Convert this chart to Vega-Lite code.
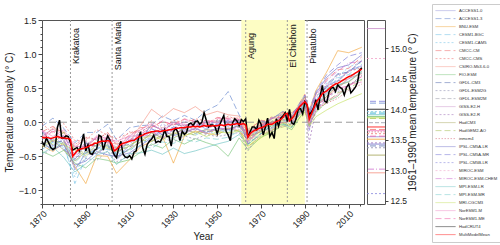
{
"$schema":"https://vega.github.io/schema/vega-lite/v6.json",
"padding":{"left":3,"top":3,"right":0,"bottom":0},
"config":{"font":"Liberation Sans","view":{"stroke":"#555555","strokeWidth":1},
 "axis":{"labelFont":"Liberation Sans","titleFont":"Liberation Sans","labelColor":"#222222","titleColor":"#222222","tickColor":"#444444","domain":false,"grid":false,"titleFontWeight":"normal"},
 "legend":{"labelFont":"Liberation Sans"}},
"datasets":{
"models":[
{"year":1870,"ACCESS1-0":-0.21,"ACCESS1-3":-0.06,"BNU-ESM":-0.34,"CESM1-BGC":-0.40,"CESM1-CAM5":-0.17,"CMCC-CM":-0.14,"CMCC-CMS":-0.02,"CSIRO-Mk3-6-0":-0.24,"FIO-ESM":-0.43,"GFDL-CM3":-0.14,"GFDL-ESM2G":-0.48,"GFDL-ESM2M":-0.30,"GISS-E2-H":-0.20,"GISS-E2-R":-0.13,"HadCM3":-0.37,"HadGEM2-AO":-0.21,"inmcm4":-0.21,"IPSL-CM5A-LR":-0.30,"IPSL-CM5A-MR":-0.34,"IPSL-CM5B-LR":-0.23,"MIROC-ESM":-0.23,"MIROC-ESM-CHEM":-0.12,"MPI-ESM-LR":-0.46,"MPI-ESM-MR":-0.29,"MRI-CGCM3":-0.34,"NorESM1-M":-0.12,"NorESM1-ME":-0.23},
{"year":1875,"ACCESS1-0":-0.35,"ACCESS1-3":0.06,"BNU-ESM":-0.43,"CESM1-BGC":-0.29,"CESM1-CAM5":-0.31,"CMCC-CM":-0.06,"CMCC-CMS":-0.16,"CSIRO-Mk3-6-0":-0.08,"FIO-ESM":-0.50,"GFDL-CM3":-0.29,"GFDL-ESM2G":-0.38,"GFDL-ESM2M":-0.42,"GISS-E2-H":-0.10,"GISS-E2-R":-0.27,"HadCM3":-0.27,"HadGEM2-AO":-0.33,"inmcm4":-0.10,"IPSL-CM5A-LR":-0.40,"IPSL-CM5A-MR":-0.24,"IPSL-CM5B-LR":-0.35,"MIROC-ESM":-0.14,"MIROC-ESM-CHEM":-0.28,"MPI-ESM-LR":-0.36,"MPI-ESM-MR":-0.41,"MRI-CGCM3":-0.26,"NorESM1-M":-0.21,"NorESM1-ME":-0.13},
{"year":1880,"ACCESS1-0":-0.24,"ACCESS1-3":-0.09,"BNU-ESM":-0.30,"CESM1-BGC":-0.31,"CESM1-CAM5":-0.37,"CMCC-CM":-0.17,"CMCC-CMS":-0.02,"CSIRO-Mk3-6-0":-0.15,"FIO-ESM":-0.41,"GFDL-CM3":-0.28,"GFDL-ESM2G":-0.33,"GFDL-ESM2M":-0.28,"GISS-E2-H":-0.24,"GISS-E2-R":-0.21,"HadCM3":-0.41,"HadGEM2-AO":-0.14,"inmcm4":-0.16,"IPSL-CM5A-LR":-0.33,"IPSL-CM5A-MR":-0.40,"IPSL-CM5B-LR":-0.20,"MIROC-ESM":-0.20,"MIROC-ESM-CHEM":-0.19,"MPI-ESM-LR":-0.52,"MPI-ESM-MR":-0.27,"MRI-CGCM3":-0.33,"NorESM1-M":-0.11,"NorESM1-ME":-0.27},
{"year":1885,"ACCESS1-0":-0.70,"ACCESS1-3":-0.30,"BNU-ESM":-0.65,"CESM1-BGC":-0.90,"CESM1-CAM5":-0.80,"CMCC-CM":-0.37,"CMCC-CMS":-0.27,"CSIRO-Mk3-6-0":-0.40,"FIO-ESM":-0.60,"GFDL-CM3":-0.55,"GFDL-ESM2G":-0.67,"GFDL-ESM2M":-0.50,"GISS-E2-H":-0.35,"GISS-E2-R":-0.48,"HadCM3":-0.57,"HadGEM2-AO":-0.39,"inmcm4":-0.33,"IPSL-CM5A-LR":-0.63,"IPSL-CM5A-MR":-0.53,"IPSL-CM5B-LR":-0.43,"MIROC-ESM":-0.31,"MIROC-ESM-CHEM":-0.51,"MPI-ESM-LR":-0.73,"MPI-ESM-MR":-0.59,"MRI-CGCM3":-0.41,"NorESM1-M":-0.36,"NorESM1-ME":-0.47},
{"year":1890,"ACCESS1-0":-0.45,"ACCESS1-3":-0.15,"BNU-ESM":-0.90,"CESM1-BGC":-0.52,"CESM1-CAM5":-0.39,"CMCC-CM":-0.23,"CMCC-CMS":-0.27,"CSIRO-Mk3-6-0":-0.40,"FIO-ESM":-0.67,"GFDL-CM3":-0.31,"GFDL-ESM2G":-0.53,"GFDL-ESM2M":-0.51,"GISS-E2-H":-0.36,"GISS-E2-R":-0.29,"HadCM3":-0.43,"HadGEM2-AO":-0.46,"inmcm4":-0.22,"IPSL-CM5A-LR":-0.57,"IPSL-CM5A-MR":-0.41,"IPSL-CM5B-LR":-0.47,"MIROC-ESM":-0.28,"MIROC-ESM-CHEM":-0.34,"MPI-ESM-LR":-0.61,"MPI-ESM-MR":-0.44,"MRI-CGCM3":-0.49,"NorESM1-M":-0.35,"NorESM1-ME":-0.32},
{"year":1895,"ACCESS1-0":-0.41,"ACCESS1-3":-0.15,"BNU-ESM":-0.49,"CESM1-BGC":-0.37,"CESM1-CAM5":-0.40,"CMCC-CM":-0.26,"CMCC-CMS":-0.11,"CSIRO-Mk3-6-0":-0.21,"FIO-ESM":-0.53,"GFDL-CM3":-0.35,"GFDL-ESM2G":-0.56,"GFDL-ESM2M":-0.34,"GISS-E2-H":-0.22,"GISS-E2-R":-0.37,"HadCM3":-0.46,"HadGEM2-AO":-0.27,"inmcm4":-0.25,"IPSL-CM5A-LR":-0.43,"IPSL-CM5A-MR":-0.47,"IPSL-CM5B-LR":-0.29,"MIROC-ESM":-0.31,"MIROC-ESM-CHEM":-0.23,"MPI-ESM-LR":-0.48,"MPI-ESM-MR":-0.44,"MRI-CGCM3":-0.32,"NorESM1-M":-0.20,"NorESM1-ME":-0.36},
{"year":1900,"ACCESS1-0":-0.26,"ACCESS1-3":-0.03,"BNU-ESM":-0.50,"CESM1-BGC":-0.40,"CESM1-CAM5":-0.25,"CMCC-CM":-0.15,"CMCC-CMS":-0.19,"CSIRO-Mk3-6-0":-0.30,"FIO-ESM":-0.56,"GFDL-CM3":-0.23,"GFDL-ESM2G":-0.42,"GFDL-ESM2M":-0.39,"GISS-E2-H":-0.30,"GISS-E2-R":-0.21,"HadCM3":-0.32,"HadGEM2-AO":-0.36,"inmcm4":-0.16,"IPSL-CM5A-LR":-0.48,"IPSL-CM5A-MR":-0.34,"IPSL-CM5B-LR":-0.37,"MIROC-ESM":-0.18,"MIROC-ESM-CHEM":-0.31,"MPI-ESM-LR":-0.43,"MPI-ESM-MR":-0.33,"MRI-CGCM3":-0.38,"NorESM1-M":-0.24,"NorESM1-ME":-0.20},
{"year":1904,"ACCESS1-0":-0.52,"ACCESS1-3":-0.26,"BNU-ESM":-0.75,"CESM1-BGC":-0.45,"CESM1-CAM5":-0.54,"CMCC-CM":-0.34,"CMCC-CMS":-0.24,"CSIRO-Mk3-6-0":-0.32,"FIO-ESM":-0.60,"GFDL-CM3":-0.49,"GFDL-ESM2G":-0.58,"GFDL-ESM2M":-0.42,"GISS-E2-H":-0.36,"GISS-E2-R":-0.47,"HadCM3":-0.53,"HadGEM2-AO":-0.37,"inmcm4":-0.31,"IPSL-CM5A-LR":-0.50,"IPSL-CM5A-MR":-0.55,"IPSL-CM5B-LR":-0.39,"MIROC-ESM":-0.33,"MIROC-ESM-CHEM":-0.44,"MPI-ESM-LR":-0.62,"MPI-ESM-MR":-0.48,"MRI-CGCM3":-0.43,"NorESM1-M":-0.28,"NorESM1-ME":-0.41},
{"year":1910,"ACCESS1-0":-0.34,"ACCESS1-3":-0.08,"BNU-ESM":-0.55,"CESM1-BGC":-0.42,"CESM1-CAM5":-0.27,"CMCC-CM":-0.19,"CMCC-CMS":-0.16,"CSIRO-Mk3-6-0":-0.28,"FIO-ESM":-0.55,"GFDL-CM3":-0.25,"GFDL-ESM2G":-0.50,"GFDL-ESM2M":-0.36,"GISS-E2-H":-0.21,"GISS-E2-R":-0.26,"HadCM3":-0.39,"HadGEM2-AO":-0.33,"inmcm4":-0.14,"IPSL-CM5A-LR":-0.45,"IPSL-CM5A-MR":-0.37,"IPSL-CM5B-LR":-0.32,"MIROC-ESM":-0.25,"MIROC-ESM-CHEM":-0.22,"MPI-ESM-LR":-0.46,"MPI-ESM-MR":-0.40,"MRI-CGCM3":-0.35,"NorESM1-M":-0.20,"NorESM1-ME":-0.27},
{"year":1915,"ACCESS1-0":-0.23,"ACCESS1-3":-0.05,"BNU-ESM":-0.36,"CESM1-BGC":-0.29,"CESM1-CAM5":-0.28,"CMCC-CM":-0.08,"CMCC-CMS":-0.12,"CSIRO-Mk3-6-0":-0.05,"FIO-ESM":-0.44,"GFDL-CM3":-0.25,"GFDL-ESM2G":-0.33,"GFDL-ESM2M":-0.30,"GISS-E2-H":-0.18,"GISS-E2-R":-0.14,"HadCM3":-0.29,"HadGEM2-AO":-0.26,"inmcm4":-0.15,"IPSL-CM5A-LR":-0.34,"IPSL-CM5A-MR":-0.22,"IPSL-CM5B-LR":-0.16,"MIROC-ESM":-0.20,"MIROC-ESM-CHEM":-0.27,"MPI-ESM-LR":-0.45,"MPI-ESM-MR":-0.35,"MRI-CGCM3":-0.24,"NorESM1-M":-0.11,"NorESM1-ME":-0.17},
{"year":1920,"ACCESS1-0":-0.10,"ACCESS1-3":-0.04,"BNU-ESM":-0.28,"CESM1-BGC":-0.22,"CESM1-CAM5":-0.29,"CMCC-CM":-0.07,"CMCC-CMS":0.02,"CSIRO-Mk3-6-0":0.19,"FIO-ESM":-0.32,"GFDL-CM3":-0.04,"GFDL-ESM2G":-0.34,"GFDL-ESM2M":-0.15,"GISS-E2-H":-0.20,"GISS-E2-R":-0.05,"HadCM3":-0.16,"HadGEM2-AO":-0.28,"inmcm4":-0.04,"IPSL-CM5A-LR":-0.23,"IPSL-CM5A-MR":-0.09,"IPSL-CM5B-LR":-0.15,"MIROC-ESM":-0.24,"MIROC-ESM-CHEM":-0.12,"MPI-ESM-LR":-0.41,"MPI-ESM-MR":-0.38,"MRI-CGCM3":-0.20,"NorESM1-M":-0.02,"NorESM1-ME":-0.08},
{"year":1925,"ACCESS1-0":-0.18,"ACCESS1-3":0.09,"BNU-ESM":-0.21,"CESM1-BGC":-0.15,"CESM1-CAM5":-0.19,"CMCC-CM":0.01,"CMCC-CMS":-0.09,"CSIRO-Mk3-6-0":0.07,"FIO-ESM":-0.38,"GFDL-CM3":-0.12,"GFDL-ESM2G":-0.23,"GFDL-ESM2M":-0.22,"GISS-E2-H":-0.08,"GISS-E2-R":-0.11,"HadCM3":-0.23,"HadGEM2-AO":-0.18,"inmcm4":-0.12,"IPSL-CM5A-LR":-0.11,"IPSL-CM5A-MR":-0.19,"IPSL-CM5B-LR":-0.03,"MIROC-ESM":-0.15,"MIROC-ESM-CHEM":-0.24,"MPI-ESM-LR":-0.47,"MPI-ESM-MR":-0.29,"MRI-CGCM3":-0.26,"NorESM1-M":-0.13,"NorESM1-ME":0.02},
{"year":1930,"ACCESS1-0":-0.07,"ACCESS1-3":0.02,"BNU-ESM":-0.60,"CESM1-BGC":-0.19,"CESM1-CAM5":-0.24,"CMCC-CM":-0.04,"CMCC-CMS":0.03,"CSIRO-Mk3-6-0":0.20,"FIO-ESM":-0.25,"GFDL-CM3":-0.02,"GFDL-ESM2G":-0.29,"GFDL-ESM2M":-0.12,"GISS-E2-H":-0.13,"GISS-E2-R":0.01,"HadCM3":-0.18,"HadGEM2-AO":-0.23,"inmcm4":-0.03,"IPSL-CM5A-LR":-0.20,"IPSL-CM5A-MR":-0.07,"IPSL-CM5B-LR":-0.09,"MIROC-ESM":-0.17,"MIROC-ESM-CHEM":-0.10,"MPI-ESM-LR":-0.38,"MPI-ESM-MR":-0.31,"MRI-CGCM3":-0.15,"NorESM1-M":-0.01,"NorESM1-ME":-0.04},
{"year":1935,"ACCESS1-0":-0.12,"ACCESS1-3":0.10,"BNU-ESM":-0.20,"CESM1-BGC":-0.09,"CESM1-CAM5":-0.16,"CMCC-CM":0.05,"CMCC-CMS":-0.01,"CSIRO-Mk3-6-0":0.14,"FIO-ESM":-0.32,"GFDL-CM3":-0.06,"GFDL-ESM2G":-0.20,"GFDL-ESM2M":-0.16,"GISS-E2-H":-0.04,"GISS-E2-R":-0.05,"HadCM3":-0.09,"HadGEM2-AO":-0.15,"inmcm4":-0.06,"IPSL-CM5A-LR":-0.14,"IPSL-CM5A-MR":-0.10,"IPSL-CM5B-LR":0.01,"MIROC-ESM":-0.11,"MIROC-ESM-CHEM":-0.16,"MPI-ESM-LR":-0.46,"MPI-ESM-MR":-0.25,"MRI-CGCM3":-0.20,"NorESM1-M":-0.03,"NorESM1-ME":0.04},
{"year":1940,"ACCESS1-0":-0.02,"ACCESS1-3":0.03,"BNU-ESM":-0.13,"CESM1-BGC":-0.17,"CESM1-CAM5":-0.19,"CMCC-CM":0.01,"CMCC-CMS":0.05,"CSIRO-Mk3-6-0":0.23,"FIO-ESM":-0.24,"GFDL-CM3":0.02,"GFDL-ESM2G":-0.25,"GFDL-ESM2M":-0.10,"GISS-E2-H":-0.12,"GISS-E2-R":-0.01,"HadCM3":-0.16,"HadGEM2-AO":-0.19,"inmcm4":0.01,"IPSL-CM5A-LR":-0.09,"IPSL-CM5A-MR":-0.03,"IPSL-CM5B-LR":-0.05,"MIROC-ESM":-0.16,"MIROC-ESM-CHEM":-0.09,"MPI-ESM-LR":-0.42,"MPI-ESM-MR":-0.29,"MRI-CGCM3":-0.14,"NorESM1-M":-0.05,"NorESM1-ME":0.01},
{"year":1945,"ACCESS1-0":-0.10,"ACCESS1-3":0.17,"BNU-ESM":-0.16,"CESM1-BGC":-0.10,"CESM1-CAM5":-0.13,"CMCC-CM":-0.02,"CMCC-CMS":0.02,"CSIRO-Mk3-6-0":0.11,"FIO-ESM":-0.30,"GFDL-CM3":-0.06,"GFDL-ESM2G":-0.18,"GFDL-ESM2M":-0.17,"GISS-E2-H":0.00,"GISS-E2-R":-0.06,"HadCM3":-0.11,"HadGEM2-AO":-0.13,"inmcm4":-0.04,"IPSL-CM5A-LR":-0.15,"IPSL-CM5A-MR":-0.08,"IPSL-CM5B-LR":0.01,"MIROC-ESM":-0.11,"MIROC-ESM-CHEM":-0.17,"MPI-ESM-LR":-0.37,"MPI-ESM-MR":-0.23,"MRI-CGCM3":-0.21,"NorESM1-M":0.03,"NorESM1-ME":-0.03},
{"year":1950,"ACCESS1-0":-0.03,"ACCESS1-3":0.25,"BNU-ESM":-0.19,"CESM1-BGC":-0.12,"CESM1-CAM5":-0.18,"CMCC-CM":0.07,"CMCC-CMS":0.01,"CSIRO-Mk3-6-0":0.16,"FIO-ESM":-0.35,"GFDL-CM3":0.02,"GFDL-ESM2G":-0.21,"GFDL-ESM2M":-0.09,"GISS-E2-H":-0.07,"GISS-E2-R":0.03,"HadCM3":-0.12,"HadGEM2-AO":-0.14,"inmcm4":0.04,"IPSL-CM5A-LR":-0.09,"IPSL-CM5A-MR":-0.03,"IPSL-CM5B-LR":-0.02,"MIROC-ESM":-0.13,"MIROC-ESM-CHEM":-0.08,"MPI-ESM-LR":-0.32,"MPI-ESM-MR":-0.25,"MRI-CGCM3":-0.14,"NorESM1-M":-0.01,"NorESM1-ME":0.06},
{"year":1955,"ACCESS1-0":-0.06,"ACCESS1-3":0.45,"BNU-ESM":-0.09,"CESM1-BGC":-0.13,"CESM1-CAM5":-0.11,"CMCC-CM":0.06,"CMCC-CMS":0.09,"CSIRO-Mk3-6-0":0.11,"FIO-ESM":-0.50,"GFDL-CM3":0.00,"GFDL-ESM2G":-0.18,"GFDL-ESM2M":-0.11,"GISS-E2-H":-0.01,"GISS-E2-R":-0.02,"HadCM3":-0.09,"HadGEM2-AO":-0.15,"inmcm4":0.01,"IPSL-CM5A-LR":-0.11,"IPSL-CM5A-MR":0.02,"IPSL-CM5B-LR":0.03,"MIROC-ESM":-0.08,"MIROC-ESM-CHEM":-0.10,"MPI-ESM-LR":-0.28,"MPI-ESM-MR":-0.22,"MRI-CGCM3":-0.16,"NorESM1-M":0.04,"NorESM1-ME":0.05},
{"year":1960,"ACCESS1-0":0.01,"ACCESS1-3":0.11,"BNU-ESM":-0.13,"CESM1-BGC":-0.07,"CESM1-CAM5":-0.14,"CMCC-CM":0.06,"CMCC-CMS":0.02,"CSIRO-Mk3-6-0":0.09,"FIO-ESM":-0.23,"GFDL-CM3":0.03,"GFDL-ESM2G":-0.15,"GFDL-ESM2M":-0.05,"GISS-E2-H":-0.07,"GISS-E2-R":0.04,"HadCM3":-0.06,"HadGEM2-AO":-0.11,"inmcm4":0.03,"IPSL-CM5A-LR":-0.04,"IPSL-CM5A-MR":0.00,"IPSL-CM5B-LR":-0.02,"MIROC-ESM":-0.12,"MIROC-ESM-CHEM":-0.08,"MPI-ESM-LR":-0.18,"MPI-ESM-MR":-0.13,"MRI-CGCM3":-0.13,"NorESM1-M":-0.01,"NorESM1-ME":0.04},
{"year":1964,"ACCESS1-0":-0.30,"ACCESS1-3":-0.13,"BNU-ESM":-0.26,"CESM1-BGC":-0.19,"CESM1-CAM5":-0.34,"CMCC-CM":-0.12,"CMCC-CMS":-0.20,"CSIRO-Mk3-6-0":-0.27,"FIO-ESM":-0.40,"GFDL-CM3":-0.32,"GFDL-ESM2G":-0.42,"GFDL-ESM2M":-0.18,"GISS-E2-H":-0.14,"GISS-E2-R":-0.28,"HadCM3":-0.21,"HadGEM2-AO":-0.36,"inmcm4":-0.10,"IPSL-CM5A-LR":-0.16,"IPSL-CM5A-MR":-0.22,"IPSL-CM5B-LR":-0.25,"MIROC-ESM":-0.38,"MIROC-ESM-CHEM":-0.31,"MPI-ESM-LR":-0.33,"MPI-ESM-MR":-0.17,"MRI-CGCM3":-0.35,"NorESM1-M":-0.24,"NorESM1-ME":-0.15},
{"year":1970,"ACCESS1-0":-0.07,"ACCESS1-3":-0.05,"BNU-ESM":-0.02,"CESM1-BGC":-0.13,"CESM1-CAM5":-0.10,"CMCC-CM":0.03,"CMCC-CMS":0.00,"CSIRO-Mk3-6-0":-0.12,"FIO-ESM":-0.22,"GFDL-CM3":-0.17,"GFDL-ESM2G":-0.15,"GFDL-ESM2M":-0.03,"GISS-E2-H":-0.06,"GISS-E2-R":-0.04,"HadCM3":-0.14,"HadGEM2-AO":-0.20,"inmcm4":0.01,"IPSL-CM5A-LR":-0.07,"IPSL-CM5A-MR":0.02,"IPSL-CM5B-LR":-0.11,"MIROC-ESM":-0.19,"MIROC-ESM-CHEM":-0.09,"MPI-ESM-LR":-0.16,"MPI-ESM-MR":-0.06,"MRI-CGCM3":-0.23,"NorESM1-M":-0.02,"NorESM1-ME":-0.05},
{"year":1975,"ACCESS1-0":-0.10,"ACCESS1-3":0.07,"BNU-ESM":-0.05,"CESM1-BGC":0.01,"CESM1-CAM5":-0.12,"CMCC-CM":-0.01,"CMCC-CMS":0.08,"CSIRO-Mk3-6-0":0.00,"FIO-ESM":-0.15,"GFDL-CM3":-0.04,"GFDL-ESM2G":-0.17,"GFDL-ESM2M":-0.07,"GISS-E2-H":0.06,"GISS-E2-R":-0.08,"HadCM3":0.01,"HadGEM2-AO":-0.11,"inmcm4":-0.01,"IPSL-CM5A-LR":0.05,"IPSL-CM5A-MR":-0.02,"IPSL-CM5B-LR":0.02,"MIROC-ESM":-0.09,"MIROC-ESM-CHEM":-0.13,"MPI-ESM-LR":-0.05,"MPI-ESM-MR":-0.09,"MRI-CGCM3":-0.12,"NorESM1-M":-0.03,"NorESM1-ME":0.06},
{"year":1980,"ACCESS1-0":0.08,"ACCESS1-3":0.12,"BNU-ESM":0.10,"CESM1-BGC":0.00,"CESM1-CAM5":0.05,"CMCC-CM":0.15,"CMCC-CMS":0.07,"CSIRO-Mk3-6-0":-0.01,"FIO-ESM":-0.04,"GFDL-CM3":-0.02,"GFDL-ESM2G":0.00,"GFDL-ESM2M":0.09,"GISS-E2-H":0.07,"GISS-E2-R":0.12,"HadCM3":0.03,"HadGEM2-AO":-0.07,"inmcm4":0.13,"IPSL-CM5A-LR":0.16,"IPSL-CM5A-MR":0.10,"IPSL-CM5B-LR":0.04,"MIROC-ESM":-0.06,"MIROC-ESM-CHEM":0.02,"MPI-ESM-LR":-0.03,"MPI-ESM-MR":0.11,"MRI-CGCM3":-0.01,"NorESM1-M":0.09,"NorESM1-ME":0.08},
{"year":1984,"ACCESS1-0":-0.01,"ACCESS1-3":0.12,"BNU-ESM":0.01,"CESM1-BGC":0.09,"CESM1-CAM5":-0.06,"CMCC-CM":0.08,"CMCC-CMS":0.13,"CSIRO-Mk3-6-0":0.02,"FIO-ESM":-0.11,"GFDL-CM3":-0.07,"GFDL-ESM2G":-0.04,"GFDL-ESM2M":0.05,"GISS-E2-H":0.11,"GISS-E2-R":0.00,"HadCM3":0.06,"HadGEM2-AO":-0.02,"inmcm4":0.14,"IPSL-CM5A-LR":0.07,"IPSL-CM5A-MR":0.10,"IPSL-CM5B-LR":-0.03,"MIROC-ESM":-0.05,"MIROC-ESM-CHEM":0.05,"MPI-ESM-LR":-0.08,"MPI-ESM-MR":0.03,"MRI-CGCM3":-0.06,"NorESM1-M":0.01,"NorESM1-ME":0.09},
{"year":1990,"ACCESS1-0":0.29,"ACCESS1-3":0.33,"BNU-ESM":0.37,"CESM1-BGC":0.26,"CESM1-CAM5":0.31,"CMCC-CM":0.41,"CMCC-CMS":0.32,"CSIRO-Mk3-6-0":0.21,"FIO-ESM":0.18,"GFDL-CM3":0.27,"GFDL-ESM2G":0.20,"GFDL-ESM2M":0.24,"GISS-E2-H":0.33,"GISS-E2-R":0.31,"HadCM3":0.23,"HadGEM2-AO":0.19,"inmcm4":0.30,"IPSL-CM5A-LR":0.38,"IPSL-CM5A-MR":0.40,"IPSL-CM5B-LR":0.25,"MIROC-ESM":0.22,"MIROC-ESM-CHEM":0.35,"MPI-ESM-LR":0.28,"MPI-ESM-MR":0.32,"MRI-CGCM3":0.15,"NorESM1-M":0.21,"NorESM1-ME":0.34},
{"year":1992,"ACCESS1-0":0.08,"ACCESS1-3":0.11,"BNU-ESM":0.17,"CESM1-BGC":0.01,"CESM1-CAM5":0.10,"CMCC-CM":0.15,"CMCC-CMS":0.03,"CSIRO-Mk3-6-0":-0.01,"FIO-ESM":-0.03,"GFDL-CM3":-0.07,"GFDL-ESM2G":-0.05,"GFDL-ESM2M":0.07,"GISS-E2-H":-0.10,"GISS-E2-R":-0.30,"HadCM3":0.09,"HadGEM2-AO":-0.04,"inmcm4":0.13,"IPSL-CM5A-LR":0.12,"IPSL-CM5A-MR":0.18,"IPSL-CM5B-LR":-0.13,"MIROC-ESM":0.00,"MIROC-ESM-CHEM":0.06,"MPI-ESM-LR":0.02,"MPI-ESM-MR":0.11,"MRI-CGCM3":-0.06,"NorESM1-M":-0.02,"NorESM1-ME":0.08},
{"year":1995,"ACCESS1-0":0.30,"ACCESS1-3":0.38,"BNU-ESM":0.46,"CESM1-BGC":0.34,"CESM1-CAM5":0.32,"CMCC-CM":0.41,"CMCC-CMS":0.25,"CSIRO-Mk3-6-0":0.23,"FIO-ESM":0.14,"GFDL-CM3":0.29,"GFDL-ESM2G":0.16,"GFDL-ESM2M":0.31,"GISS-E2-H":0.22,"GISS-E2-R":0.18,"HadCM3":0.26,"HadGEM2-AO":0.15,"inmcm4":0.19,"IPSL-CM5A-LR":0.42,"IPSL-CM5A-MR":0.44,"IPSL-CM5B-LR":0.30,"MIROC-ESM":0.36,"MIROC-ESM-CHEM":0.39,"MPI-ESM-LR":0.21,"MPI-ESM-MR":0.27,"MRI-CGCM3":0.08,"NorESM1-M":0.17,"NorESM1-ME":0.24},
{"year":2000,"ACCESS1-0":0.54,"ACCESS1-3":0.51,"BNU-ESM":0.74,"CESM1-BGC":0.48,"CESM1-CAM5":0.58,"CMCC-CM":0.63,"CMCC-CMS":0.52,"CSIRO-Mk3-6-0":0.37,"FIO-ESM":0.30,"GFDL-CM3":0.55,"GFDL-ESM2G":0.39,"GFDL-ESM2M":0.43,"GISS-E2-H":0.45,"GISS-E2-R":0.34,"HadCM3":0.38,"HadGEM2-AO":0.29,"inmcm4":0.28,"IPSL-CM5A-LR":0.66,"IPSL-CM5A-MR":0.70,"IPSL-CM5B-LR":0.53,"MIROC-ESM":0.56,"MIROC-ESM-CHEM":0.61,"MPI-ESM-LR":0.42,"MPI-ESM-MR":0.50,"MRI-CGCM3":0.18,"NorESM1-M":0.32,"NorESM1-ME":0.36},
{"year":2005,"ACCESS1-0":0.61,"ACCESS1-3":0.70,"BNU-ESM":1.05,"CESM1-BGC":0.65,"CESM1-CAM5":0.66,"CMCC-CM":0.77,"CMCC-CMS":0.59,"CSIRO-Mk3-6-0":0.51,"FIO-ESM":0.38,"GFDL-CM3":0.71,"GFDL-ESM2G":0.45,"GFDL-ESM2M":0.61,"GISS-E2-H":0.49,"GISS-E2-R":0.48,"HadCM3":0.54,"HadGEM2-AO":0.43,"inmcm4":0.35,"IPSL-CM5A-LR":0.80,"IPSL-CM5A-MR":0.84,"IPSL-CM5B-LR":0.60,"MIROC-ESM":0.69,"MIROC-ESM-CHEM":0.75,"MPI-ESM-LR":0.55,"MPI-ESM-MR":0.52,"MRI-CGCM3":0.27,"NorESM1-M":0.40,"NorESM1-ME":0.50},
{"year":2010,"ACCESS1-0":0.76,"ACCESS1-3":0.74,"BNU-ESM":1.02,"CESM1-BGC":0.70,"CESM1-CAM5":0.81,"CMCC-CM":0.79,"CMCC-CMS":0.75,"CSIRO-Mk3-6-0":0.65,"FIO-ESM":0.55,"GFDL-CM3":0.73,"GFDL-ESM2G":0.52,"GFDL-ESM2M":0.63,"GISS-E2-H":0.64,"GISS-E2-R":0.54,"HadCM3":0.59,"HadGEM2-AO":0.49,"inmcm4":0.47,"IPSL-CM5A-LR":0.84,"IPSL-CM5A-MR":0.97,"IPSL-CM5B-LR":0.75,"MIROC-ESM":0.73,"MIROC-ESM-CHEM":0.87,"MPI-ESM-LR":0.60,"MPI-ESM-MR":0.69,"MRI-CGCM3":0.34,"NorESM1-M":0.55,"NorESM1-ME":0.53},
{"year":2016,"ACCESS1-0":0.83,"ACCESS1-3":0.90,"BNU-ESM":1.10,"CESM1-BGC":0.85,"CESM1-CAM5":0.88,"CMCC-CM":0.96,"CMCC-CMS":0.80,"CSIRO-Mk3-6-0":0.71,"FIO-ESM":0.63,"GFDL-CM3":0.91,"GFDL-ESM2G":0.69,"GFDL-ESM2M":0.81,"GISS-E2-H":0.72,"GISS-E2-R":0.68,"HadCM3":0.74,"HadGEM2-AO":0.62,"inmcm4":0.56,"IPSL-CM5A-LR":0.99,"IPSL-CM5A-MR":1.02,"IPSL-CM5B-LR":0.82,"MIROC-ESM":0.93,"MIROC-ESM-CHEM":0.89,"MPI-ESM-LR":0.75,"MPI-ESM-MR":0.72,"MRI-CGCM3":0.42,"NorESM1-M":0.59,"NorESM1-ME":0.67}
],
"obs":[
{"year":1870,"HadCRUT4":-0.28,"MultiModelMean":-0.22},{"year":1871,"HadCRUT4":-0.34,"MultiModelMean":-0.23},{"year":1872,"HadCRUT4":-0.23,"MultiModelMean":-0.22},{"year":1873,"HadCRUT4":-0.30,"MultiModelMean":-0.23},{"year":1874,"HadCRUT4":-0.37,"MultiModelMean":-0.24},
{"year":1875,"HadCRUT4":-0.40,"MultiModelMean":-0.23},{"year":1876,"HadCRUT4":-0.38,"MultiModelMean":-0.22},{"year":1877,"HadCRUT4":-0.08,"MultiModelMean":-0.21},{"year":1878,"HadCRUT4":0.03,"MultiModelMean":-0.22},{"year":1879,"HadCRUT4":-0.23,"MultiModelMean":-0.23},
{"year":1880,"HadCRUT4":-0.23,"MultiModelMean":-0.23},{"year":1881,"HadCRUT4":-0.20,"MultiModelMean":-0.24},{"year":1882,"HadCRUT4":-0.21,"MultiModelMean":-0.24},{"year":1883,"HadCRUT4":-0.30,"MultiModelMean":-0.25},{"year":1884,"HadCRUT4":-0.41,"MultiModelMean":-0.50},
{"year":1885,"HadCRUT4":-0.39,"MultiModelMean":-0.46},{"year":1886,"HadCRUT4":-0.37,"MultiModelMean":-0.42},{"year":1887,"HadCRUT4":-0.42,"MultiModelMean":-0.40},{"year":1888,"HadCRUT4":-0.31,"MultiModelMean":-0.39},{"year":1889,"HadCRUT4":-0.17,"MultiModelMean":-0.38},
{"year":1890,"HadCRUT4":-0.42,"MultiModelMean":-0.37},{"year":1891,"HadCRUT4":-0.33,"MultiModelMean":-0.36},{"year":1892,"HadCRUT4":-0.46,"MultiModelMean":-0.34},{"year":1893,"HadCRUT4":-0.47,"MultiModelMean":-0.33},{"year":1894,"HadCRUT4":-0.41,"MultiModelMean":-0.31},
{"year":1895,"HadCRUT4":-0.39,"MultiModelMean":-0.31},{"year":1896,"HadCRUT4":-0.19,"MultiModelMean":-0.29},{"year":1897,"HadCRUT4":-0.21,"MultiModelMean":-0.28},{"year":1898,"HadCRUT4":-0.41,"MultiModelMean":-0.28},{"year":1899,"HadCRUT4":-0.29,"MultiModelMean":-0.28},
{"year":1900,"HadCRUT4":-0.20,"MultiModelMean":-0.27},{"year":1901,"HadCRUT4":-0.26,"MultiModelMean":-0.28},{"year":1902,"HadCRUT4":-0.40,"MultiModelMean":-0.33},{"year":1903,"HadCRUT4":-0.48,"MultiModelMean":-0.42},{"year":1904,"HadCRUT4":-0.52,"MultiModelMean":-0.40},
{"year":1905,"HadCRUT4":-0.38,"MultiModelMean":-0.36},{"year":1906,"HadCRUT4":-0.28,"MultiModelMean":-0.33},{"year":1907,"HadCRUT4":-0.47,"MultiModelMean":-0.31},{"year":1908,"HadCRUT4":-0.51,"MultiModelMean":-0.30},{"year":1909,"HadCRUT4":-0.52,"MultiModelMean":-0.29},
{"year":1910,"HadCRUT4":-0.49,"MultiModelMean":-0.28},{"year":1911,"HadCRUT4":-0.54,"MultiModelMean":-0.27},{"year":1912,"HadCRUT4":-0.44,"MultiModelMean":-0.27},{"year":1913,"HadCRUT4":-0.42,"MultiModelMean":-0.24},{"year":1914,"HadCRUT4":-0.24,"MultiModelMean":-0.22},
{"year":1915,"HadCRUT4":-0.14,"MultiModelMean":-0.20},{"year":1916,"HadCRUT4":-0.38,"MultiModelMean":-0.19},{"year":1917,"HadCRUT4":-0.47,"MultiModelMean":-0.17},{"year":1918,"HadCRUT4":-0.33,"MultiModelMean":-0.16},{"year":1919,"HadCRUT4":-0.28,"MultiModelMean":-0.15},
{"year":1920,"HadCRUT4":-0.25,"MultiModelMean":-0.14},{"year":1921,"HadCRUT4":-0.19,"MultiModelMean":-0.14},{"year":1922,"HadCRUT4":-0.30,"MultiModelMean":-0.13},{"year":1923,"HadCRUT4":-0.28,"MultiModelMean":-0.13},{"year":1924,"HadCRUT4":-0.29,"MultiModelMean":-0.14},
{"year":1925,"HadCRUT4":-0.22,"MultiModelMean":-0.13},{"year":1926,"HadCRUT4":-0.11,"MultiModelMean":-0.12},{"year":1927,"HadCRUT4":-0.21,"MultiModelMean":-0.12},{"year":1928,"HadCRUT4":-0.21,"MultiModelMean":-0.11},{"year":1929,"HadCRUT4":-0.35,"MultiModelMean":-0.11},
{"year":1930,"HadCRUT4":-0.14,"MultiModelMean":-0.10},{"year":1931,"HadCRUT4":-0.09,"MultiModelMean":-0.09},{"year":1932,"HadCRUT4":-0.14,"MultiModelMean":-0.09},{"year":1933,"HadCRUT4":-0.27,"MultiModelMean":-0.08},{"year":1934,"HadCRUT4":-0.13,"MultiModelMean":-0.08},
{"year":1935,"HadCRUT4":-0.18,"MultiModelMean":-0.08},{"year":1936,"HadCRUT4":-0.15,"MultiModelMean":-0.07},{"year":1937,"HadCRUT4":-0.03,"MultiModelMean":-0.07},{"year":1938,"HadCRUT4":-0.01,"MultiModelMean":-0.07},{"year":1939,"HadCRUT4":-0.05,"MultiModelMean":-0.06},
{"year":1940,"HadCRUT4":0.01,"MultiModelMean":-0.07},{"year":1941,"HadCRUT4":0.02,"MultiModelMean":-0.06},{"year":1942,"HadCRUT4":-0.03,"MultiModelMean":-0.07},{"year":1943,"HadCRUT4":0.00,"MultiModelMean":-0.06},{"year":1944,"HadCRUT4":0.14,"MultiModelMean":-0.05},
{"year":1945,"HadCRUT4":0.03,"MultiModelMean":-0.06},{"year":1946,"HadCRUT4":-0.07,"MultiModelMean":-0.05},{"year":1947,"HadCRUT4":-0.04,"MultiModelMean":-0.06},{"year":1948,"HadCRUT4":-0.04,"MultiModelMean":-0.05},{"year":1949,"HadCRUT4":-0.07,"MultiModelMean":-0.05},
{"year":1950,"HadCRUT4":-0.17,"MultiModelMean":-0.05},{"year":1951,"HadCRUT4":-0.05,"MultiModelMean":-0.04},{"year":1952,"HadCRUT4":0.03,"MultiModelMean":-0.04},{"year":1953,"HadCRUT4":0.10,"MultiModelMean":-0.05},{"year":1954,"HadCRUT4":-0.13,"MultiModelMean":-0.04},
{"year":1955,"HadCRUT4":-0.19,"MultiModelMean":-0.03},{"year":1956,"HadCRUT4":-0.27,"MultiModelMean":-0.04},{"year":1957,"HadCRUT4":-0.01,"MultiModelMean":-0.03},{"year":1958,"HadCRUT4":0.05,"MultiModelMean":-0.03},{"year":1959,"HadCRUT4":0.02,"MultiModelMean":-0.02},
{"year":1960,"HadCRUT4":-0.05,"MultiModelMean":-0.03},{"year":1961,"HadCRUT4":0.04,"MultiModelMean":-0.03},{"year":1962,"HadCRUT4":0.01,"MultiModelMean":-0.02},{"year":1963,"HadCRUT4":0.05,"MultiModelMean":-0.04},{"year":1964,"HadCRUT4":-0.22,"MultiModelMean":-0.22},
{"year":1965,"HadCRUT4":-0.14,"MultiModelMean":-0.17},{"year":1966,"HadCRUT4":-0.07,"MultiModelMean":-0.14},{"year":1967,"HadCRUT4":-0.07,"MultiModelMean":-0.12},{"year":1968,"HadCRUT4":-0.11,"MultiModelMean":-0.11},{"year":1969,"HadCRUT4":0.03,"MultiModelMean":-0.09},
{"year":1970,"HadCRUT4":-0.03,"MultiModelMean":-0.08},{"year":1971,"HadCRUT4":-0.19,"MultiModelMean":-0.07},{"year":1972,"HadCRUT4":-0.07,"MultiModelMean":-0.05},{"year":1973,"HadCRUT4":0.06,"MultiModelMean":-0.03},{"year":1974,"HadCRUT4":-0.21,"MultiModelMean":-0.03},
{"year":1975,"HadCRUT4":-0.15,"MultiModelMean":-0.03},{"year":1976,"HadCRUT4":-0.24,"MultiModelMean":-0.01},{"year":1977,"HadCRUT4":0.05,"MultiModelMean":0.01},{"year":1978,"HadCRUT4":-0.06,"MultiModelMean":0.02},{"year":1979,"HadCRUT4":0.06,"MultiModelMean":0.04},
{"year":1980,"HadCRUT4":0.09,"MultiModelMean":0.07},{"year":1981,"HadCRUT4":0.14,"MultiModelMean":0.12},{"year":1982,"HadCRUT4":0.01,"MultiModelMean":0.13},{"year":1983,"HadCRUT4":0.19,"MultiModelMean":0.02},{"year":1984,"HadCRUT4":-0.01,"MultiModelMean":0.05},
{"year":1985,"HadCRUT4":-0.03,"MultiModelMean":0.09},{"year":1986,"HadCRUT4":0.05,"MultiModelMean":0.15},{"year":1987,"HadCRUT4":0.19,"MultiModelMean":0.20},{"year":1988,"HadCRUT4":0.20,"MultiModelMean":0.24},{"year":1989,"HadCRUT4":0.12,"MultiModelMean":0.27},
{"year":1990,"HadCRUT4":0.30,"MultiModelMean":0.30},{"year":1991,"HadCRUT4":0.25,"MultiModelMean":0.26},{"year":1992,"HadCRUT4":0.11,"MultiModelMean":0.04},{"year":1993,"HadCRUT4":0.15,"MultiModelMean":0.12},{"year":1994,"HadCRUT4":0.21,"MultiModelMean":0.20},
{"year":1995,"HadCRUT4":0.33,"MultiModelMean":0.28},{"year":1996,"HadCRUT4":0.18,"MultiModelMean":0.33},{"year":1997,"HadCRUT4":0.39,"MultiModelMean":0.37},{"year":1998,"HadCRUT4":0.54,"MultiModelMean":0.42},{"year":1999,"HadCRUT4":0.31,"MultiModelMean":0.44},
{"year":2000,"HadCRUT4":0.29,"MultiModelMean":0.46},{"year":2001,"HadCRUT4":0.44,"MultiModelMean":0.49},{"year":2002,"HadCRUT4":0.50,"MultiModelMean":0.52},{"year":2003,"HadCRUT4":0.51,"MultiModelMean":0.54},{"year":2004,"HadCRUT4":0.45,"MultiModelMean":0.56},
{"year":2005,"HadCRUT4":0.55,"MultiModelMean":0.57},{"year":2006,"HadCRUT4":0.51,"MultiModelMean":0.59},{"year":2007,"HadCRUT4":0.49,"MultiModelMean":0.61},{"year":2008,"HadCRUT4":0.40,"MultiModelMean":0.63},{"year":2009,"HadCRUT4":0.51,"MultiModelMean":0.65},
{"year":2010,"HadCRUT4":0.56,"MultiModelMean":0.67},{"year":2011,"HadCRUT4":0.43,"MultiModelMean":0.68},{"year":2012,"HadCRUT4":0.47,"MultiModelMean":0.70},{"year":2013,"HadCRUT4":0.51,"MultiModelMean":0.72},{"year":2014,"HadCRUT4":0.58,"MultiModelMean":0.74},
{"year":2015,"HadCRUT4":0.76,"MultiModelMean":0.76},{"year":2016,"HadCRUT4":0.80,"MultiModelMean":0.78}
],
"clim":[
{"model":"ACCESS1-0","t":13.55},{"model":"ACCESS1-3","t":14.10},{"model":"BNU-ESM","t":13.51},{"model":"CESM1-BGC","t":13.93},{"model":"CESM1-CAM5","t":13.96},{"model":"CMCC-CM","t":13.67},{"model":"CMCC-CMS","t":13.60},{"model":"CSIRO-Mk3-6-0","t":12.96},{"model":"FIO-ESM","t":13.88},{"model":"GFDL-CM3","t":13.40},{"model":"GFDL-ESM2G","t":13.37},{"model":"GFDL-ESM2M","t":13.78},{"model":"GISS-E2-H","t":15.32},{"model":"GISS-E2-R","t":13.45},{"model":"HadCM3","t":13.25},{"model":"HadGEM2-AO","t":13.85},{"model":"inmcm4","t":13.63},{"model":"IPSL-CM5A-LR","t":13.43},{"model":"IPSL-CM5A-MR","t":14.13},{"model":"IPSL-CM5B-LR","t":12.62},{"model":"MIROC-ESM","t":14.83},{"model":"MIROC-ESM-CHEM","t":13.02},{"model":"MPI-ESM-LR","t":13.91},{"model":"MPI-ESM-MR","t":13.95},{"model":"MRI-CGCM3","t":13.86},{"model":"NorESM1-M","t":13.65},{"model":"NorESM1-ME","t":13.56},{"model":"HadCRUT4","t":14.00},{"model":"MultiModelMean","t":13.71}
],
"volc":[
{"name":"Krakatoa","year":1883},{"name":"Santa Maria","year":1902},{"name":"Agung","year":1963},{"name":"El Chichon","year":1982},{"name":"Pinatubo","year":1991}
]
},
"hconcat":[
{
"width":322,"height":184,
"resolve":{"axis":{"x":"independent","y":"independent"}},
"layer":[
{"data":{"values":[{"s":1961,"e":1990}]},
 "mark":{"type":"rect","color":"#fdfdc4"},
 "encoding":{
  "x":{"field":"s","type":"quantitative","scale":{"domain":[1870,2017],"nice":false,"zero":false},
       "axis":{"orient":"bottom","values":[1870,1890,1910,1930,1950,1970,1990,2010],"format":"d","labelAngle":-45,"labelFontSize":9,"tickSize":4,"labelPadding":1,"title":"Year","titleFontSize":10,"titlePadding":2}},
  "x2":{"field":"e"},
  "y":{"datum":-1.2,"type":"quantitative","scale":{"domain":[-1.2,1.5],"nice":false,"zero":false},
       "axis":{"orient":"left","values":[-1,-0.5,0,0.5,1,1.5],"format":".1f","labelFontSize":9,"tickSize":4,"labelPadding":2,"title":"Temperature anomaly (° C)","titleFontSize":10,"titlePadding":4}},
  "y2":{"datum":1.5}}},
{"data":{"values":[{"z":0}]},
 "mark":{"type":"rule","color":"#9a9a9a","strokeDash":[7,4],"strokeWidth":1},
 "encoding":{"y":{"field":"z","type":"quantitative","scale":{"domain":[-1.2,1.5],"nice":false,"zero":false},
   "axis":{"orient":"left","values":[-1.2,-1.1,-0.9,-0.8,-0.7,-0.6,-0.4,-0.3,-0.2,-0.1,0.1,0.2,0.3,0.4,0.6,0.7,0.8,0.9,1.1,1.2,1.3,1.4],"labels":false,"title":null,"tickSize":2}}}},
{"data":{"name":"volc"},
 "mark":{"type":"rule","color":"#9a9a9a","strokeDash":[2,2],"strokeWidth":1},
 "encoding":{"x":{"field":"year","type":"quantitative","scale":{"domain":[1870,2017],"nice":false,"zero":false},
   "axis":{"orient":"bottom","values":[1875,1880,1885,1895,1900,1905,1915,1920,1925,1935,1940,1945,1955,1960,1965,1975,1980,1985,1995,2000,2005,2015],"labels":false,"title":null,"tickSize":2}}}},
{"data":{"name":"models"},
 "transform":[{"fold":["ACCESS1-0","ACCESS1-3","BNU-ESM","CESM1-BGC","CESM1-CAM5","CMCC-CM","CMCC-CMS","CSIRO-Mk3-6-0","FIO-ESM","GFDL-CM3","GFDL-ESM2G","GFDL-ESM2M","GISS-E2-H","GISS-E2-R","HadCM3","HadGEM2-AO","inmcm4","IPSL-CM5A-LR","IPSL-CM5A-MR","IPSL-CM5B-LR","MIROC-ESM","MIROC-ESM-CHEM","MPI-ESM-LR","MPI-ESM-MR","MRI-CGCM3","NorESM1-M","NorESM1-ME"],"as":["model","v"]}],
 "mark":{"type":"line","strokeWidth":0.8,"opacity":0.85},
 "encoding":{
  "x":{"field":"year","type":"quantitative","scale":{"domain":[1870,2017],"nice":false,"zero":false},"axis":null},
  "y":{"field":"v","type":"quantitative","scale":{"domain":[-1.2,1.5],"nice":false,"zero":false},"axis":null},
  "color":{"field":"model","type":"nominal","legend":null,
    "scale":{"domain":["ACCESS1-0","ACCESS1-3","BNU-ESM","CESM1-BGC","CESM1-CAM5","CMCC-CM","CMCC-CMS","CSIRO-Mk3-6-0","FIO-ESM","GFDL-CM3","GFDL-ESM2G","GFDL-ESM2M","GISS-E2-H","GISS-E2-R","HadCM3","HadGEM2-AO","inmcm4","IPSL-CM5A-LR","IPSL-CM5A-MR","IPSL-CM5B-LR","MIROC-ESM","MIROC-ESM-CHEM","MPI-ESM-LR","MPI-ESM-MR","MRI-CGCM3","NorESM1-M","NorESM1-ME","HadCRUT4","MultiModelMean"],
             "range":["#8c8cd8","#6a8ad0","#f0a030","#78c4e8","#78c4e8","#f07070","#f07070","#f59080","#70c070","#5a70b0","#8c8cb0","#9a9aa8","#c88cc8","#a070b8","#a0a050","#a8c058","#d87080","#6c6cc8","#7c7cd8","#8484dc","#f0a0c8","#d070d0","#68c0c0","#80d0d0","#c0e058","#f080c0","#f060a8","#000000","#ff0000"]}},
  "strokeDash":{"field":"model","type":"nominal","legend":null,
    "scale":{"domain":["ACCESS1-0","ACCESS1-3","BNU-ESM","CESM1-BGC","CESM1-CAM5","CMCC-CM","CMCC-CMS","CSIRO-Mk3-6-0","FIO-ESM","GFDL-CM3","GFDL-ESM2G","GFDL-ESM2M","GISS-E2-H","GISS-E2-R","HadCM3","HadGEM2-AO","inmcm4","IPSL-CM5A-LR","IPSL-CM5A-MR","IPSL-CM5B-LR","MIROC-ESM","MIROC-ESM-CHEM","MPI-ESM-LR","MPI-ESM-MR","MRI-CGCM3","NorESM1-M","NorESM1-ME","HadCRUT4","MultiModelMean"],
             "range":[[1,0],[6,3],[1,0],[6,3],[2,2],[6,3],[2,2],[1,0],[1,0],[6,3],[2,2],[4,2],[1,0],[2,2],[1,0],[6,3],[1.5,1.5],[1,0],[6,3],[2,2],[2,2],[6,2,1,2],[1,0],[6,3],[1,0],[1,0],[6,3],[1,0],[1,0]]}}}},
{"data":{"name":"obs"},
 "transform":[{"fold":["HadCRUT4","MultiModelMean"],"as":["model","v"]}],
 "mark":{"type":"line","strokeWidth":1.5},
 "encoding":{
  "x":{"field":"year","type":"quantitative","scale":{"domain":[1870,2017],"nice":false,"zero":false},"axis":null},
  "y":{"field":"v","type":"quantitative","scale":{"domain":[-1.2,1.5],"nice":false,"zero":false},"axis":null},
  "color":{"field":"model","type":"nominal","legend":null,
    "scale":{"domain":["ACCESS1-0","ACCESS1-3","BNU-ESM","CESM1-BGC","CESM1-CAM5","CMCC-CM","CMCC-CMS","CSIRO-Mk3-6-0","FIO-ESM","GFDL-CM3","GFDL-ESM2G","GFDL-ESM2M","GISS-E2-H","GISS-E2-R","HadCM3","HadGEM2-AO","inmcm4","IPSL-CM5A-LR","IPSL-CM5A-MR","IPSL-CM5B-LR","MIROC-ESM","MIROC-ESM-CHEM","MPI-ESM-LR","MPI-ESM-MR","MRI-CGCM3","NorESM1-M","NorESM1-ME","HadCRUT4","MultiModelMean"],
             "range":["#8c8cd8","#6a8ad0","#f0a030","#78c4e8","#78c4e8","#f07070","#f07070","#f59080","#70c070","#5a70b0","#8c8cb0","#9a9aa8","#c88cc8","#a070b8","#a0a050","#a8c058","#d87080","#6c6cc8","#7c7cd8","#8484dc","#f0a0c8","#d070d0","#68c0c0","#80d0d0","#c0e058","#f080c0","#f060a8","#000000","#ff0000"]}}}},
{"data":{"name":"volc"},
 "mark":{"type":"text","angle":270,"align":"center","baseline":"top","dy":1.5,"fontSize":9,"color":"#111111"},
 "encoding":{
  "x":{"field":"year","type":"quantitative","scale":{"domain":[1870,2017],"nice":false,"zero":false},"axis":null},
  "y":{"datum":1.12,"type":"quantitative","scale":{"domain":[-1.2,1.5],"nice":false,"zero":false},"axis":null},
  "text":{"field":"name"}}}
]
},
{
"width":18,"height":184,
"data":{"name":"clim"},
"mark":{"type":"rule","strokeWidth":1,"opacity":0.8},
"encoding":{
  "y":{"field":"t","type":"quantitative","scale":{"domain":[12.45,15.46],"nice":false,"zero":false},
       "axis":{"orient":"right","values":[12.5,13,13.5,14,14.5,15],"format":".1f","labelFontSize":8.5,"tickSize":3,"labelPadding":2,"title":"1961–1990 mean temperature (° C)","titleAngle":270,"titleBaseline":"top","titleFontSize":10,"titlePadding":1}},
  "color":{"field":"model","type":"nominal",
    "scale":{"domain":["ACCESS1-0","ACCESS1-3","BNU-ESM","CESM1-BGC","CESM1-CAM5","CMCC-CM","CMCC-CMS","CSIRO-Mk3-6-0","FIO-ESM","GFDL-CM3","GFDL-ESM2G","GFDL-ESM2M","GISS-E2-H","GISS-E2-R","HadCM3","HadGEM2-AO","inmcm4","IPSL-CM5A-LR","IPSL-CM5A-MR","IPSL-CM5B-LR","MIROC-ESM","MIROC-ESM-CHEM","MPI-ESM-LR","MPI-ESM-MR","MRI-CGCM3","NorESM1-M","NorESM1-ME","HadCRUT4","MultiModelMean"],
             "range":["#8c8cd8","#6a8ad0","#f0a030","#78c4e8","#78c4e8","#f07070","#f07070","#f59080","#70c070","#5a70b0","#8c8cb0","#9a9aa8","#c88cc8","#a070b8","#a0a050","#a8c058","#d87080","#6c6cc8","#7c7cd8","#8484dc","#f0a0c8","#d070d0","#68c0c0","#80d0d0","#c0e058","#f080c0","#f060a8","#000000","#ff0000"]},
    "legend":{"title":null,"orient":"none","legendX":65,"legendY":-16,"direction":"vertical","symbolType":"stroke","symbolSize":400,"symbolStrokeWidth":1,"symbolOpacity":0.55,"clipHeight":7.2,"rowPadding":0,"padding":3,"strokeColor":"#cccccc","labelFontSize":4.2,"labelOffset":3,"labelColor":"#333333","symbolLimit":40}},
  "strokeDash":{"field":"model","type":"nominal",
    "scale":{"domain":["ACCESS1-0","ACCESS1-3","BNU-ESM","CESM1-BGC","CESM1-CAM5","CMCC-CM","CMCC-CMS","CSIRO-Mk3-6-0","FIO-ESM","GFDL-CM3","GFDL-ESM2G","GFDL-ESM2M","GISS-E2-H","GISS-E2-R","HadCM3","HadGEM2-AO","inmcm4","IPSL-CM5A-LR","IPSL-CM5A-MR","IPSL-CM5B-LR","MIROC-ESM","MIROC-ESM-CHEM","MPI-ESM-LR","MPI-ESM-MR","MRI-CGCM3","NorESM1-M","NorESM1-ME","HadCRUT4","MultiModelMean"],
             "range":[[1,0],[6,3],[1,0],[6,3],[2,2],[6,3],[2,2],[1,0],[1,0],[6,3],[2,2],[4,2],[1,0],[2,2],[1,0],[6,3],[1.5,1.5],[1,0],[6,3],[2,2],[2,2],[6,2,1,2],[1,0],[6,3],[1,0],[1,0],[6,3],[1,0],[1,0]]},
    "legend":{"title":null,"orient":"none","legendX":65,"legendY":-16,"direction":"vertical","symbolType":"stroke","symbolSize":400,"symbolStrokeWidth":1,"symbolOpacity":0.55,"clipHeight":7.2,"rowPadding":0,"padding":3,"strokeColor":"#cccccc","labelFontSize":4.2,"labelOffset":3,"labelColor":"#333333","symbolLimit":40}}}
}
],
"spacing":0,
"resolve":{"scale":{"y":"independent","color":"independent","strokeDash":"independent"}}
}
